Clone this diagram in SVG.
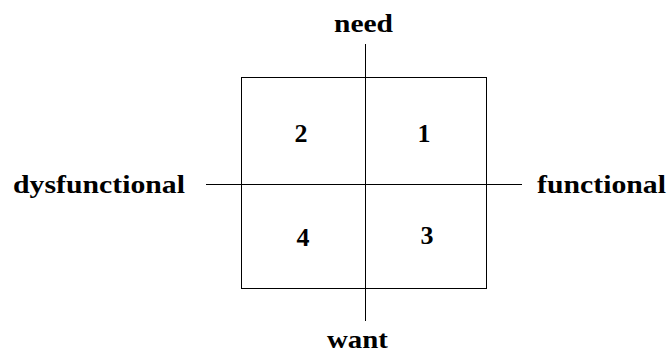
<svg xmlns="http://www.w3.org/2000/svg" width="667" height="354" viewBox="0 0 667 354">
<style>
.t{font-family:"Liberation Serif","Times New Roman",serif;font-weight:bold;font-size:26px;fill:#000}
.n{font-family:"Liberation Serif","Times New Roman",serif;font-weight:bold;font-size:26px;fill:#000;text-anchor:middle}
.l{stroke:#000;stroke-width:1;fill:none}
</style>
<rect width="667" height="354" fill="#fff"/>
<g id="connectors">
<rect class="l" x="241.5" y="77.5" width="245" height="211"/>
<line class="l" x1="365.5" y1="44" x2="365.5" y2="321"/>
<line class="l" x1="206" y1="184.5" x2="522" y2="184.5"/>
</g>
<g id="need"><text class="t" x="334" y="32" textLength="59" lengthAdjust="spacingAndGlyphs">need</text></g>
<g id="want"><text class="t" x="327" y="348" font-size="24" textLength="61" lengthAdjust="spacingAndGlyphs">want</text></g>
<g id="dysfunctional"><text class="t" x="13" y="193" textLength="172" lengthAdjust="spacingAndGlyphs">dysfunctional</text></g>
<g id="functional"><text class="t" x="537" y="193" textLength="129" lengthAdjust="spacingAndGlyphs">functional</text></g>
<g id="q2"><text class="n" x="301" y="142">2</text></g>
<g id="q1"><text class="n" x="424" y="142">1</text></g>
<g id="q4"><text class="n" x="303" y="246">4</text></g>
<g id="q3"><text class="n" x="427" y="244">3</text></g>
</svg>
